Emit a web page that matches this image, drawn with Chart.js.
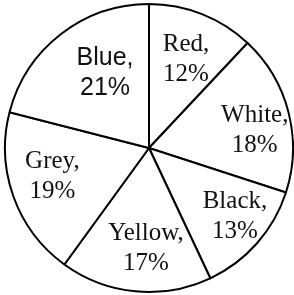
<!DOCTYPE html>
<html>
<head>
<meta charset="utf-8">
<script src="https://cdn.jsdelivr.net/npm/chart.js@4/dist/chart.umd.min.js"></script>
<style>
  html, body { margin: 0; padding: 0; background: #ffffff; }
  #wrap { width: 294px; height: 295px; position: relative; }
</style>
</head>
<body>
<div id="wrap"><canvas id="c"></canvas></div>
<script>
// ---- data ----
const categories = ['Red', 'White', 'Black', 'Yellow', 'Grey', 'Blue'];
const shares = [12, 18, 13, 17, 19, 21];

// ---- label layout / style (not data) ----
const labelRadius = [0.668, 0.745, 0.765, 0.70, 0.70, 0.603];   // fraction of outer radius
const labelAngleShift = [1.0, 4.8, -2.7, -3.7, 3.2, 7.4];        // degrees, relative to slice mid-angle
const labelFonts = [
  '25px "Liberation Serif", "Times New Roman", serif',
  '25px "Liberation Serif", "Times New Roman", serif',
  '25px "Liberation Serif", "Times New Roman", serif',
  '25px "Liberation Serif", "Times New Roman", serif',
  '25px "Liberation Serif", "Times New Roman", serif',
  '25px "Liberation Sans", Arial, sans-serif'
];
const labelLineHeight = 30;

const sliceLabels = {
  id: 'sliceLabels',
  afterDatasetsDraw(chart) {
    const ctx = chart.ctx;
    const meta = chart.getDatasetMeta(0);
    ctx.save();
    ctx.fillStyle = '#111111';
    ctx.textAlign = 'center';
    ctx.textBaseline = 'middle';
    meta.data.forEach((arc, i) => {
      const p = arc.getProps(['x', 'y', 'startAngle', 'endAngle', 'outerRadius'], true);
      const mid = (p.startAngle + p.endAngle) / 2 + labelAngleShift[i] * Math.PI / 180;
      const r = p.outerRadius * labelRadius[i];
      const cx = p.x + Math.cos(mid) * r;
      const cy = p.y + Math.sin(mid) * r;
      ctx.font = labelFonts[i];
      const lines = [categories[i] + ',', shares[i] + '%'];
      ctx.fillText(lines[0], cx, cy - labelLineHeight / 2);
      ctx.fillText(lines[1], cx, cy + labelLineHeight / 2);
    });
    ctx.restore();
  }
};

new Chart(document.getElementById('c'), {
  type: 'pie',
  data: {
    labels: categories,
    datasets: [{
      data: shares,
      backgroundColor: '#ffffff',
      borderColor: '#000000',
      borderWidth: 2,
      borderAlign: 'center'
    }]
  },
  options: {
    responsive: true,
    maintainAspectRatio: false,
    devicePixelRatio: 1,
    animation: false,
    layout: { padding: { left: 4, right: 0, top: 3, bottom: 2 } },
    plugins: {
      legend: { display: false },
      tooltip: { enabled: false },
      title: { display: false }
    }
  },
  plugins: [sliceLabels]
});
</script>
</body>
</html>
